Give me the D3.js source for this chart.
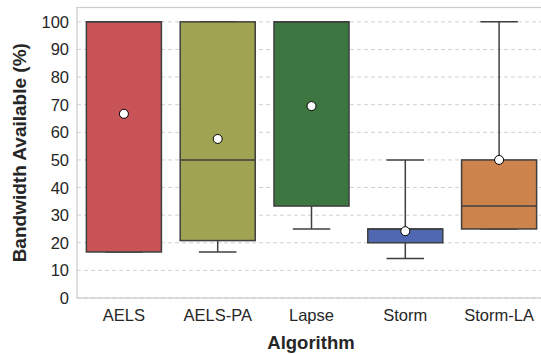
<!DOCTYPE html>
<html>
<head>
<meta charset="utf-8">
<style>
  body { margin: 0; background: #fff; }
  svg text { font-family: "Liberation Sans", Arial, sans-serif; }
</style>
</head>
<body>
<svg width="541" height="354"></svg>
<script src="https://d3js.org/d3.v7.min.js"></script>
<script>
// box plot summary per algorithm
var algorithms = ["AELS", "AELS-PA", "Lapse", "Storm", "Storm-LA"];
var whiskerLow = [16.67, 16.67, 25, 14.3, 25];
var q1 = [16.67, 20.8, 33.3, 20, 25];
var medians = [100, 50, 100, 25, 33.3];
var q3 = [100, 100, 100, 25, 50];
var whiskerHigh = [100, 100, 100, 50, 100];
var means = [66.7, 57.6, 69.5, 24.2, 50];
var colors = ["#c85457", "#a0a452", "#3d7641", "#5067b1", "#cd844c"];
var yTicks = [0, 10, 20, 30, 40, 50, 60, 70, 80, 90, 100];

var svg = d3.select("svg");
var plotLeft = 77, plotTop = 7.5, plotRight = 546, plotBottom = 298;

var x = d3.scaleBand()
    .domain(algorithms)
    .range([plotLeft, plotRight])
    .paddingInner(0.2)
    .paddingOuter(0.1);

var y = d3.scaleLinear()
    .domain([0, 105.2])
    .range([plotBottom, plotTop]);

// grid
svg.append("g")
  .selectAll("line")
  .data(yTicks)
  .enter().append("line")
    .attr("x1", plotLeft).attr("x2", plotRight)
    .attr("y1", function(d) { return y(d); })
    .attr("y2", function(d) { return y(d); })
    .attr("stroke", "#d0d0d0")
    .attr("stroke-width", 1)
    .attr("stroke-dasharray", "4,3");

// frame
svg.append("rect")
    .attr("x", plotLeft).attr("y", plotTop)
    .attr("width", plotRight - plotLeft).attr("height", plotBottom - plotTop)
    .attr("fill", "none")
    .attr("stroke", "#cccccc")
    .attr("stroke-width", 1.25);

var data = algorithms.map(function(a, i) {
  return { name: a, lo: whiskerLow[i], q1: q1[i], med: medians[i], q3: q3[i], hi: whiskerHigh[i], mean: means[i], color: colors[i] };
});

var line = "#3f3f3f";
var g = svg.append("g").selectAll("g").data(data).enter().append("g");

function cx(d) { return x(d.name) + x.bandwidth() / 2; }

// whiskers
g.append("line")
    .attr("x1", cx).attr("x2", cx)
    .attr("y1", function(d) { return y(d.q3); })
    .attr("y2", function(d) { return y(d.hi); })
    .attr("stroke", line).attr("stroke-width", 1.5);
g.append("line")
    .attr("x1", cx).attr("x2", cx)
    .attr("y1", function(d) { return y(d.q1); })
    .attr("y2", function(d) { return y(d.lo); })
    .attr("stroke", line).attr("stroke-width", 1.5);
// caps
["hi", "lo"].forEach(function(k) {
  g.append("line")
      .attr("x1", function(d) { return cx(d) - x.bandwidth() / 4; })
      .attr("x2", function(d) { return cx(d) + x.bandwidth() / 4; })
      .attr("y1", function(d) { return y(d[k]); })
      .attr("y2", function(d) { return y(d[k]); })
      .attr("stroke", line).attr("stroke-width", 1.5);
});

// boxes
g.append("rect")
    .attr("x", function(d) { return x(d.name); })
    .attr("width", x.bandwidth())
    .attr("y", function(d) { return y(d.q3); })
    .attr("height", function(d) { return y(d.q1) - y(d.q3); })
    .attr("fill", function(d) { return d.color; })
    .attr("stroke", line).attr("stroke-width", 1.5);

// medians
g.append("line")
    .attr("x1", function(d) { return x(d.name); })
    .attr("x2", function(d) { return x(d.name) + x.bandwidth(); })
    .attr("y1", function(d) { return y(d.med); })
    .attr("y2", function(d) { return y(d.med); })
    .attr("stroke", line).attr("stroke-width", 1.5);

// means
g.append("circle")
    .attr("cx", cx)
    .attr("cy", function(d) { return y(d.mean); })
    .attr("r", 4.5)
    .attr("fill", "#fff")
    .attr("stroke", "#000").attr("stroke-width", 1);

// y tick labels
svg.append("g")
  .selectAll("text")
  .data(yTicks)
  .enter().append("text")
    .attr("x", 69)
    .attr("y", function(d) { return y(d) + 6; })
    .attr("text-anchor", "end")
    .attr("font-size", 16.5)
    .attr("fill", "#262626")
    .text(function(d) { return d; });

// x tick labels
svg.append("g")
  .selectAll("text")
  .data(algorithms)
  .enter().append("text")
    .attr("x", function(d) { return x(d) + x.bandwidth() / 2; })
    .attr("y", 321)
    .attr("text-anchor", "middle")
    .attr("font-size", 16.5)
    .attr("fill", "#262626")
    .text(function(d) { return d; });

svg.append("text")
    .attr("x", 311)
    .attr("y", 349)
    .attr("text-anchor", "middle")
    .attr("font-size", 18.5)
    .attr("font-weight", "bold")
    .attr("fill", "#262626")
    .text("Algorithm");

svg.append("text")
    .attr("transform", "translate(25.5," + ((plotTop + plotBottom) / 2) + ") rotate(-90)")
    .attr("text-anchor", "middle")
    .attr("font-size", 19)
    .attr("font-weight", "bold")
    .attr("fill", "#262626")
    .text("Bandwidth Available (%)");
</script>
</body>
</html>
